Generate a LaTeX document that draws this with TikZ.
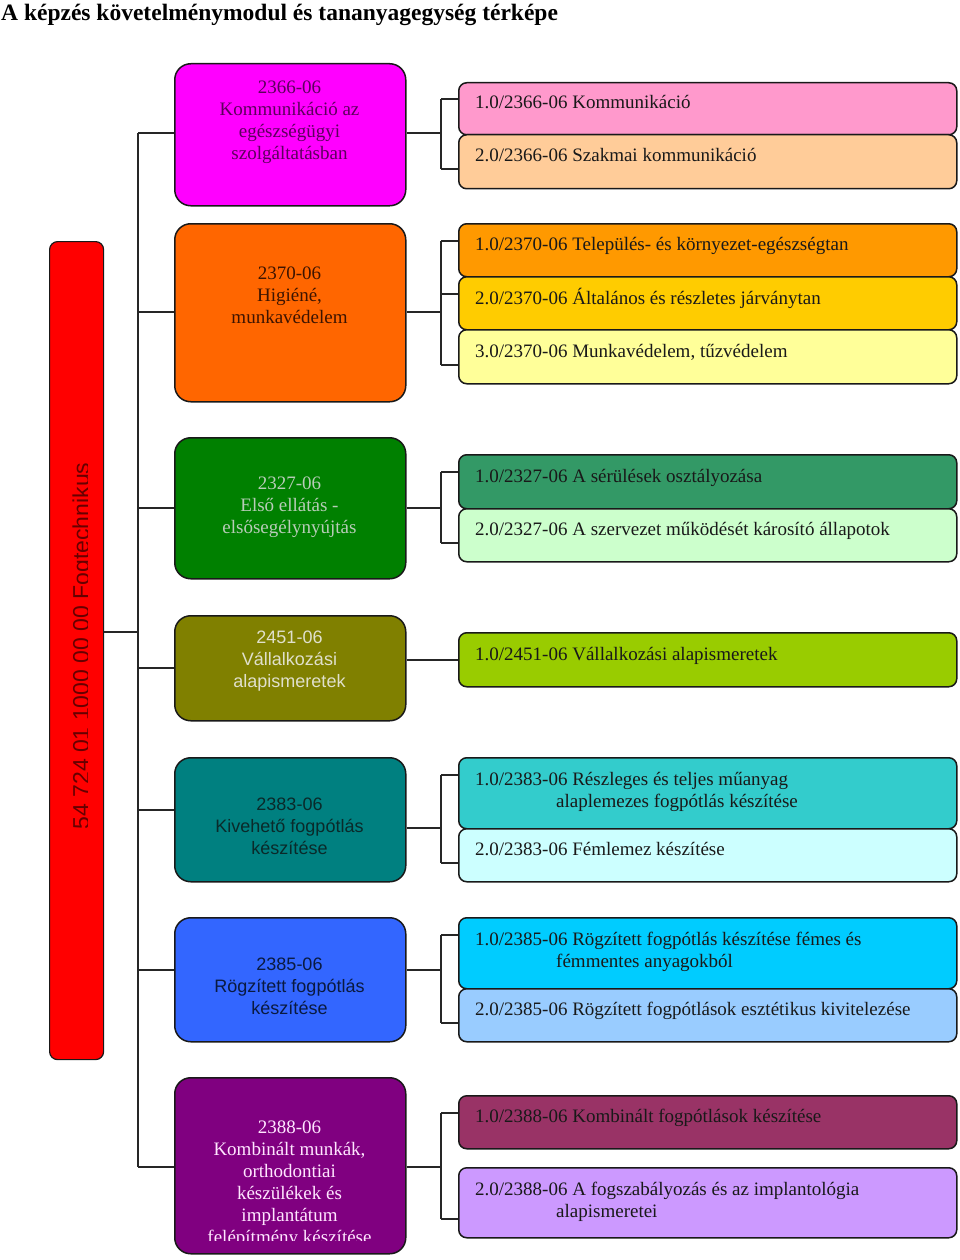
\documentclass[tikz,border=0pt]{standalone}
\usepackage{fontspec}
\setmainfont{Liberation Serif}
\setsansfont{Liberation Sans}
\usepackage{tikz}

\definecolor{kepzes}{HTML}{FF0000}
\definecolor{kepzestext}{HTML}{660000}
\definecolor{mod1}{HTML}{FF00FF}
\definecolor{mod2}{HTML}{FF6600}
\definecolor{mod3}{HTML}{008000}
\definecolor{mod4}{HTML}{808000}
\definecolor{mod5}{HTML}{008080}
\definecolor{mod6}{HTML}{3366FF}
\definecolor{mod7}{HTML}{800080}
\definecolor{modtext1}{HTML}{5C005C}
\definecolor{modtext2}{HTML}{3D1400}
\definecolor{modtext3}{HTML}{B8CCB8}
\definecolor{modtext4}{HTML}{E0E0CC}
\definecolor{modtext5}{HTML}{0A2A2A}
\definecolor{modtext6}{HTML}{0A1A40}
\definecolor{modtext7}{HTML}{FFE6FF}
\definecolor{egy1a}{HTML}{FF99CC}
\definecolor{egy1b}{HTML}{FFCC99}
\definecolor{egy2a}{HTML}{FF9900}
\definecolor{egy2b}{HTML}{FFCC00}
\definecolor{egy2c}{HTML}{FFFF99}
\definecolor{egy3a}{HTML}{339966}
\definecolor{egy3b}{HTML}{CCFFCC}
\definecolor{egy4}{HTML}{99CC00}
\definecolor{egy5a}{HTML}{33CCCC}
\definecolor{egy5b}{HTML}{CCFFFF}
\definecolor{egy6a}{HTML}{00CCFF}
\definecolor{egy6b}{HTML}{99CCFF}
\definecolor{egy7a}{HTML}{993366}
\definecolor{egy7b}{HTML}{CC99FF}

\begin{document}
\begin{tikzpicture}[x=1pt,y=-1pt,
    modul/.style={draw=black!90, line width=1.5pt, rounded corners=16pt,
        minimum width=231pt, anchor=north west, inner sep=0pt},
    egyseg/.style={draw=black!90, line width=1.5pt, rounded corners=8pt,
        minimum width=498pt, anchor=north west, inner sep=0pt},
    modtext/.style={align=center, font=\fontsize{19}{22}\selectfont},
    modsans/.style={align=center, font=\sffamily\fontsize{18}{22}\selectfont},
    egytext/.style={align=left, anchor=base west, inner sep=0pt,
        font=\fontsize{19}{22}\selectfont, text=black!90},
    link/.style={line width=1.5pt, draw=black!85}]
    \useasboundingbox (0,0) rectangle (960,1260);
    \pgfmathsetmacro{\trunk}{138}
    \pgfmathsetmacro{\brack}{441}

    % Title
    \node[anchor=base west, inner sep=0pt, font=\bfseries\fontsize{23.5}{24}\selectfont]
        (titel) at (1,21) {A képzés követelménymodul és tananyagegység térképe};

    % Draw the qualification bar
    \node[draw=black!90, line width=1.2pt, fill=kepzes, rounded corners=8pt,
        minimum width=54pt, minimum height=818pt, anchor=north west, inner sep=0pt]
        (kepzes) at (49,241) {};
    \begin{scope}
        \clip (49,241) rectangle (87.5,1059);
        \node[rotate=90, anchor=base, inner sep=0pt, text=kepzestext,
            font=\sffamily\fontsize{23}{24}\selectfont]
            (kepzes text) at (89,646) {54 724 01 1000 00 00 Fogtechnikus};
    \end{scope}

    % Draw the modules
    \node[modul, fill=mod1, minimum height=142pt] (m1) at (174,63) {};
    \node[modul, fill=mod2, minimum height=178pt] (m2) at (174,223) {};
    \node[modul, fill=mod3, minimum height=141pt] (m3) at (174,437) {};
    \node[modul, fill=mod4, minimum height=105pt] (m4) at (174,615) {};
    \node[modul, fill=mod5, minimum height=124pt] (m5) at (174,757) {};
    \node[modul, fill=mod6, minimum height=124pt] (m6) at (174,917) {};
    \node[modul, fill=mod7, minimum height=176pt] (m7) at (174,1077) {};

    \node[modtext, text=modtext1] (m1 text) at (289.5,122)
        {2366-06\\Kommunikáció az\\egészségügyi\\szolgáltatásban};
    \node[modtext, text=modtext2] (m2 text) at (289.5,295)
        {2370-06\\Higiéné,\\munkavédelem};
    \node[modtext, text=modtext3] (m3 text) at (289.5,507)
        {2327-06\\Első ellátás -\\elsősegélynyújtás};
    \node[modsans, text=modtext4] (m4 text) at (289.5,661)
        {2451-06\\Vállalkozási\\alapismeretek};
    \node[modsans, text=modtext5] (m5 text) at (289.5,826)
        {2383-06\\Kivehető fogpótlás\\készítése};
    \node[modsans, text=modtext6] (m6 text) at (289.5,986)
        {2385-06\\Rögzített fogpótlás\\készítése};
    \begin{scope}
        \clip (174,1077) rectangle (405,1240);
        \node[modtext, text=modtext7] (m7 text) at (289.5,1184)
            {2388-06\\Kombinált munkák,\\orthodontiai\\készülékek és\\implantátum\\felépítmény készítése};
    \end{scope}

    % Draw the trunk
    \coordinate (t0) at (\trunk,632);
    \coordinate (t1) at (\trunk,133);
    \coordinate (t2) at (\trunk,312);
    \coordinate (t3) at (\trunk,508);
    \coordinate (t4) at (\trunk,668);
    \coordinate (t5) at (\trunk,810);
    \coordinate (t6) at (\trunk,970);
    \coordinate (t7) at (\trunk,1167);
    \draw[link] (t1) -- (t7);
    \draw[link] (t0 -| kepzes.east) -- (t0);
    \foreach \i in {1,...,7}
        \draw[link] (t\i) -- (t\i -| m\i.west);

    % Draw the units
    \node[egyseg, fill=egy1a, minimum height=52pt] (u1a) at (458,82) {};
    \node[egyseg, fill=egy1b, minimum height=54pt] (u1b) at (458,134) {};
    \node[egyseg, fill=egy2a, minimum height=53pt] (u2a) at (458,223) {};
    \node[egyseg, fill=egy2b, minimum height=53pt] (u2b) at (458,276) {};
    \node[egyseg, fill=egy2c, minimum height=54pt] (u2c) at (458,329) {};
    \node[egyseg, fill=egy3a, minimum height=54pt] (u3a) at (458,454) {};
    \node[egyseg, fill=egy3b, minimum height=53pt] (u3b) at (458,508) {};
    \node[egyseg, fill=egy4, minimum height=54pt] (u4) at (458,632) {};
    \node[egyseg, fill=egy5a, minimum height=71pt] (u5a) at (458,757) {};
    \node[egyseg, fill=egy5b, minimum height=53pt] (u5b) at (458,828) {};
    \node[egyseg, fill=egy6a, minimum height=71pt] (u6a) at (458,917) {};
    \node[egyseg, fill=egy6b, minimum height=53pt] (u6b) at (458,988) {};
    \node[egyseg, fill=egy7a, minimum height=53pt] (u7a) at (458,1095) {};
    \node[egyseg, fill=egy7b, minimum height=70pt] (u7b) at (458,1167) {};

    \node[egytext] (u1a text) at ([shift={(17,27)}]u1a.north west) {1.0/2366-06 Kommunikáció};
    \node[egytext] (u1b text) at ([shift={(17,28)}]u1b.north west) {2.0/2366-06 Szakmai kommunikáció};
    \node[egytext] (u2a text) at ([shift={(17,27)}]u2a.north west) {1.0/2370-06 Település- és környezet-egészségtan};
    \node[egytext] (u2b text) at ([shift={(17,28)}]u2b.north west) {2.0/2370-06 Általános és részletes járványtan};
    \node[egytext] (u2c text) at ([shift={(17,28)}]u2c.north west) {3.0/2370-06 Munkavédelem, tűzvédelem};
    \node[egytext] (u3a text) at ([shift={(17,28)}]u3a.north west) {1.0/2327-06 A sérülések osztályozása};
    \node[egytext] (u3b text) at ([shift={(17,27)}]u3b.north west) {2.0/2327-06 A szervezet működését károsító állapotok};
    \node[egytext] (u4 text) at ([shift={(17,28)}]u4.north west) {1.0/2451-06 Vállalkozási alapismeretek};
    \node[egytext] (u5a text) at ([shift={(17,50)}]u5a.north west)
        {1.0/2383-06 Részleges és teljes műanyag\\\hspace*{81pt}alaplemezes fogpótlás készítése};
    \node[egytext] (u5b text) at ([shift={(17,27)}]u5b.north west) {2.0/2383-06 Fémlemez készítése};
    \node[egytext] (u6a text) at ([shift={(17,50)}]u6a.north west)
        {1.0/2385-06 Rögzített fogpótlás készítése fémes és\\\hspace*{81pt}fémmentes anyagokból};
    \node[egytext] (u6b text) at ([shift={(17,27)}]u6b.north west) {2.0/2385-06 Rögzített fogpótlások esztétikus kivitelezése};
    \node[egytext] (u7a text) at ([shift={(17,27)}]u7a.north west) {1.0/2388-06 Kombinált fogpótlások készítése};
    \node[egytext] (u7b text) at ([shift={(17,50)}]u7b.north west)
        {2.0/2388-06 A fogszabályozás és az implantológia\\\hspace*{81pt}alapismeretei};

    % Draw the brackets
    \coordinate (b1) at (\brack,133);
    \coordinate (b2) at (\brack,312);
    \coordinate (b3) at (\brack,508);
    \coordinate (b5) at (\brack,828);
    \coordinate (b6) at (\brack,970);
    \coordinate (b7) at (\brack,1167);
    \foreach \i in {1,2,3,5,6,7}
        \draw[link] (b\i -| m\i.east) -- (b\i);
    \draw[link] (m4.east |- u4.west) -- (u4.west);

    \coordinate (k1a) at (\brack,99);   \coordinate (k1b) at (\brack,169);
    \coordinate (k2a) at (\brack,241);  \coordinate (k2b) at (\brack,294);
    \coordinate (k2c) at (\brack,365);
    \coordinate (k3a) at (\brack,472);  \coordinate (k3b) at (\brack,543);
    \coordinate (k5a) at (\brack,775);  \coordinate (k5b) at (\brack,863);
    \coordinate (k6a) at (\brack,935);  \coordinate (k6b) at (\brack,1023);
    \coordinate (k7a) at (\brack,1113); \coordinate (k7b) at (\brack,1219);
    \draw[link] (k1a) -- (k1b);
    \draw[link] (k2a) -- (k2c);
    \draw[link] (k3a) -- (k3b);
    \draw[link] (k5a) -- (k5b);
    \draw[link] (k6a) -- (k6b);
    \draw[link] (k7a) -- (k7b);
    \foreach \u in {1a,1b,2a,2b,2c,3a,3b,5a,5b,6a,6b,7a,7b}
        \draw[link] (k\u) -- (k\u -| u\u.west);
\end{tikzpicture}
\end{document}
